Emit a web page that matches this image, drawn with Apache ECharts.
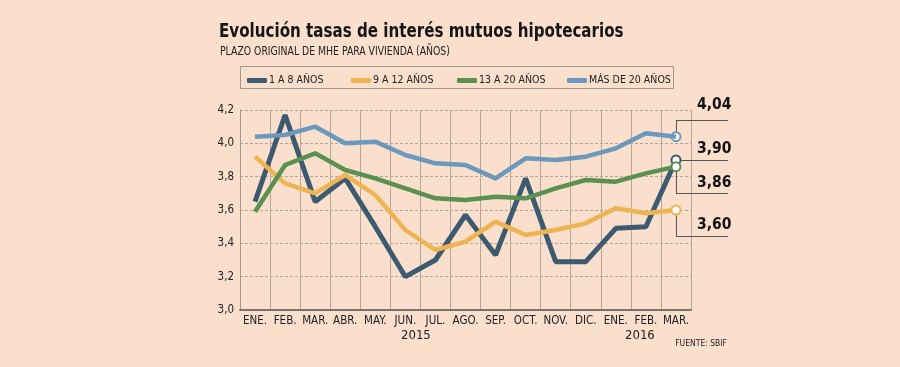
<!DOCTYPE html>
<html><head><meta charset="utf-8">
<script src="https://cdn.jsdelivr.net/npm/echarts@6/dist/echarts.min.js"></script>
<style>html,body{margin:0;padding:0;background:#f9dfcc;}#c{width:900px;height:367px;}</style>
</head><body><div id="c"></div>
<script>
const months = ['ENE.','FEB.','MAR.','ABR.','MAY.','JUN.','JUL.','AGO.','SEP.','OCT.','NOV.','DIC.','ENE.','FEB.','MAR.'];
const years = [{label:'2015', at: 5.35}, {label:'2016', at: 12.8}];
const yTicks = [3.0, 3.2, 3.4, 3.6, 3.8, 4.0, 4.2];
const s1a8 = [3.65, 4.17, 3.65, 3.79, 3.50, 3.20, 3.30, 3.57, 3.33, 3.79, 3.29, 3.29, 3.49, 3.50, 3.90];
const s9a12 = [3.92, 3.76, 3.70, 3.81, 3.69, 3.48, 3.36, 3.41, 3.53, 3.45, 3.48, 3.52, 3.61, 3.58, 3.60];
const s13a20 = [3.59, 3.87, 3.94, 3.84, 3.79, 3.73, 3.67, 3.66, 3.68, 3.67, 3.73, 3.78, 3.77, 3.82, 3.86];
const sMas20 = [4.04, 4.05, 4.10, 4.00, 4.01, 3.93, 3.88, 3.87, 3.79, 3.91, 3.90, 3.92, 3.97, 4.06, 4.04];
const names = ['1 A 8 AÑOS','9 A 12 AÑOS','13 A 20 AÑOS','MÁS DE 20 AÑOS'];
const colors = ['#3e5a70','#efb452','#5a9150','#6b98bc'];
const seriesData = [s1a8, s9a12, s13a20, sMas20];
const FONT = '"DejaVu Sans Condensed","DejaVu Sans",sans-serif';
const legendLefts = [242, 346, 452, 562];

const chart = echarts.init(document.getElementById('c'));
const fmt = v => v.toFixed(2).replace('.', ',');
chart.setOption({
  backgroundColor: '#f9dfcc',
  animation: false,
  legend: names.map((n, i) => ({
    left: legendLefts[i], top: 70, itemWidth: 20, itemHeight: 5, icon: 'roundRect',
    textStyle: {fontFamily: FONT, fontSize: 10.5, color: '#222', padding:[0,0,0,-3]},
    data: [n]
  })),
  grid: {left: 240, right: 209, top: 110, bottom: 57},
  xAxis: {
    type: 'category', data: months, boundaryGap: true,
    axisTick: {show: false},
    axisLine: {lineStyle: {color: '#7a736c', width: 2}},
    axisLabel: {fontFamily: FONT, fontSize: 11.5, color: '#222', margin: 5, interval: 0},
    splitLine: {show: true, interval: 0, lineStyle: {color: '#b3a79c', width: 1}}
  },
  yAxis: {
    type: 'value', min: 3.0, max: 4.2, interval: 0.2,
    axisLine: {show: true, lineStyle: {color: '#a09890', width: 1}},
    axisTick: {show: false},
    axisLabel: {fontFamily: FONT, fontSize: 11.5, color: '#222', margin: 6, formatter: v => yTicks.includes(+v.toFixed(1)) ? v.toFixed(1).replace('.', ',') : ''},
    splitLine: {lineStyle: {color: '#b0a59b', type: [3,2], width: 1}}
  },
  series: seriesData.map((d, i) => ({
    name: names[i], type: 'line', data: d,
    lineStyle: {color: colors[i], width: i === 0 ? 5 : 4.5},
    itemStyle: {color: colors[i]},
    symbol: 'none',
    markPoint: {
      symbol: 'circle', symbolSize: 9,
      itemStyle: {color: '#fff', borderColor: colors[i], borderWidth: 2},
      label: {show: false},
      data: [{coord: [d.length - 1, d[d.length - 1]]}]
    },
    z: [2, 3, 4, 5][i]
  })),
  color: colors
});

const pxX = (c) => {
  const a = chart.convertToPixel({gridIndex: 0}, [Math.floor(c), 3.0])[0];
  const b = chart.convertToPixel({gridIndex: 0}, [Math.floor(c) + 1, 3.0])[0];
  return a + (b - a) * (c - Math.floor(c));
};

// annotation geometry (styling): [series index, vertical offset from point to leader, label gap]
const ann = [[3, -17, 8], [0, 0, 4], [2, 26, 3], [1, 26, 4]];
const g = [];
g.push({type: 'text', x: 219, y: 22, scaleX: 0.84, style: {text: 'Evolución tasas de interés mutuos hipotecarios', fontFamily: FONT, fontSize: 20, fontWeight: 'bold', fill: '#151515', textVerticalAlign: 'top'}});
g.push({type: 'text', x: 220, y: 46, scaleX: 0.9, style: {text: 'PLAZO ORIGINAL DE MHE PARA VIVIENDA (AÑOS)', fontFamily: FONT, fontSize: 11.5, fill: '#222', textVerticalAlign: 'top'}});
g.push({type: 'rect', shape: {x: 240.5, y: 66.5, width: 433, height: 22}, style: {fill: 'none', stroke: '#a09890', lineWidth: 1}, z: 0});
ann.forEach(([si, off, gap]) => {
  const d = seriesData[si];
  const p = chart.convertToPixel({gridIndex: 0}, [d.length - 1, d[d.length - 1]]);
  const yl = Math.round(p[1] + off) + 0.5;
  if (off !== 0) g.push({type: 'line', shape: {x1: p[0] + 0.5, y1: p[1], x2: p[0] + 0.5, y2: yl}, style: {stroke: '#555', lineWidth: 1}, z: 1});
  g.push({type: 'line', shape: {x1: p[0], y1: yl, x2: 728, y2: yl}, style: {stroke: '#555', lineWidth: 1}, z: 1});
  g.push({type: 'text', x: 697, y: yl - gap, style: {text: fmt(d[d.length - 1]), fontFamily: FONT, fontSize: 15.5, fontWeight: 'bold', fill: '#111', textVerticalAlign: 'bottom'}, z: 10});
});
years.forEach(yr => {
  g.push({type: 'text', x: pxX(yr.at), y: 336, style: {text: yr.label, fontFamily: FONT, fontSize: 13, fill: '#222', textAlign: 'center', textVerticalAlign: 'middle'}});
});
g.push({type: 'text', x: 727, y: 344, style: {text: 'FUENTE: SBIF', fontFamily: FONT, fontSize: 8.5, fill: '#222', textAlign: 'right', textVerticalAlign: 'middle'}});
chart.setOption({graphic: g});
</script></body></html>
